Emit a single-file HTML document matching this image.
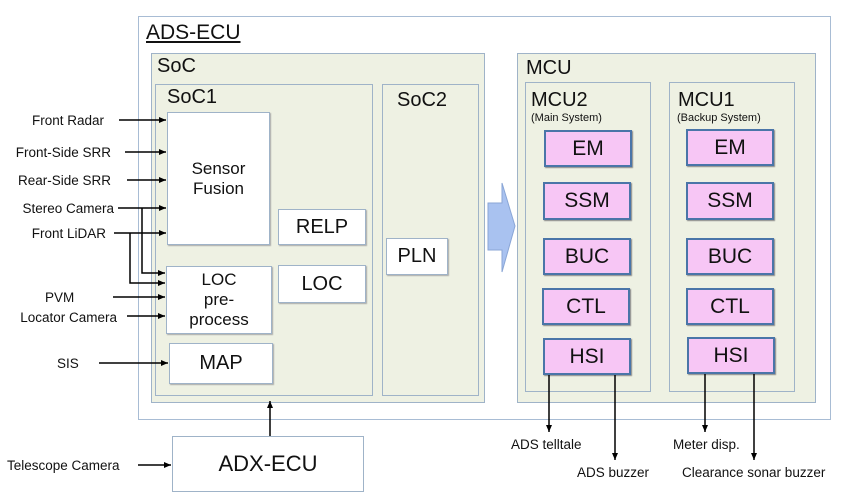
<!DOCTYPE html>
<html><head><style>
body{margin:0;width:850px;height:504px;background:#fff;position:relative;overflow:hidden;font-family:"Liberation Sans","DejaVu Sans",sans-serif;color:#111}
.b{position:absolute;box-sizing:border-box}
.g{background:#eef1e3;border:1.5px solid #9fb3c8}
.w{background:#fff;border:1.5px solid #9fb3c8;box-shadow:1px 1px 1px #aaa;display:flex;align-items:center;justify-content:center;text-align:center}
.p{background:#f7c6f5;border:2px solid #4a75a8;box-shadow:1px 1px 1px #888;display:flex;align-items:center;justify-content:center;font-size:21px}
.t{position:absolute;font-size:20px;line-height:20px}
.l{position:absolute;font-size:13.5px;line-height:13px;white-space:nowrap}
</style></head><body>
<div class="b" style="left:138px;top:16px;width:693px;height:404px;border:1.5px solid #a8bcd4;background:#fff"></div>
<div class="t" style="left:146px;top:23px;font-size:21px;text-decoration:underline">ADS-ECU</div>
<div class="b g" style="left:151px;top:53px;width:334px;height:350px"></div>
<div class="t" style="left:157px;top:56px;font-size:20px">SoC</div>
<div class="b g" style="left:155px;top:84px;width:218px;height:312px"></div>
<div class="t" style="left:167px;top:87px">SoC1</div>
<div class="b g" style="left:382px;top:84px;width:97px;height:312px"></div>
<div class="t" style="left:397px;top:90px">SoC2</div>
<div class="b w" style="left:167px;top:112px;width:103px;height:133px;font-size:17px">Sensor<br>Fusion</div>
<div class="b w" style="left:278px;top:209px;width:88px;height:36px;font-size:20px">RELP</div>
<div class="b w" style="left:166px;top:266px;width:106px;height:68px;font-size:17px;line-height:20px">LOC<br>pre-<br>process</div>
<div class="b w" style="left:278px;top:265px;width:88px;height:38px;font-size:20px">LOC</div>
<div class="b w" style="left:169px;top:343px;width:104px;height:41px;font-size:20px">MAP</div>
<div class="b w" style="left:386px;top:238px;width:62px;height:37px;font-size:20px">PLN</div>
<div class="b g" style="left:517px;top:53px;width:299px;height:350px"></div>
<div class="t" style="left:526px;top:58px">MCU</div>
<div class="b g" style="left:525px;top:82px;width:126px;height:310px"></div>
<div class="t" style="left:531px;top:90px">MCU2</div>
<div class="l" style="left:531px;top:112px;font-size:11px">(Main System)</div>
<div class="b g" style="left:669px;top:82px;width:126px;height:310px"></div>
<div class="t" style="left:678px;top:90px">MCU1</div>
<div class="l" style="left:677px;top:112px;font-size:11px">(Backup System)</div>
<div class="b p" style="left:544px;top:130px;width:88px;height:37px">EM</div>
<div class="b p" style="left:543px;top:182px;width:88px;height:38px">SSM</div>
<div class="b p" style="left:543px;top:238px;width:88px;height:37px">BUC</div>
<div class="b p" style="left:542px;top:288px;width:88px;height:37px">CTL</div>
<div class="b p" style="left:543px;top:338px;width:88px;height:37px">HSI</div>
<div class="b p" style="left:686px;top:129px;width:88px;height:37px">EM</div>
<div class="b p" style="left:686px;top:182px;width:88px;height:38px">SSM</div>
<div class="b p" style="left:686px;top:238px;width:88px;height:37px">BUC</div>
<div class="b p" style="left:686px;top:288px;width:88px;height:37px">CTL</div>
<div class="b p" style="left:687px;top:337px;width:88px;height:37px">HSI</div>
<div class="b w" style="left:172px;top:436px;width:192px;height:56px;font-size:22px;box-shadow:none">ADX-ECU</div>
<div class="l" style="right:746px;top:114px">Front Radar</div>
<div class="l" style="right:739px;top:146px">Front-Side SRR</div>
<div class="l" style="right:739px;top:174px">Rear-Side SRR</div>
<div class="l" style="right:736px;top:202px">Stereo Camera</div>
<div class="l" style="right:744px;top:227px">Front LiDAR</div>
<div class="l" style="left:45px;top:291px">PVM</div>
<div class="l" style="right:733px;top:311px">Locator Camera</div>
<div class="l" style="left:57px;top:357px">SIS</div>
<div class="l" style="left:7px;top:459px">Telescope Camera</div>
<div class="l" style="left:511px;top:438px">ADS telltale</div>
<div class="l" style="left:577px;top:466px">ADS buzzer</div>
<div class="l" style="left:673px;top:438px">Meter disp.</div>
<div class="l" style="left:682px;top:466px">Clearance sonar buzzer</div>
<svg width="850" height="504" style="position:absolute;left:0;top:0">
<defs><marker id="a" markerWidth="8" markerHeight="8" refX="7" refY="4" orient="auto" markerUnits="userSpaceOnUse"><path d="M0,1 L7,4 L0,7z" fill="#000"/></marker></defs>
<g stroke="#000" stroke-width="1.5" fill="none" marker-end="url(#a)">
<line x1="119" y1="120" x2="166" y2="120"/>
<line x1="125" y1="152" x2="166" y2="152"/>
<line x1="127" y1="180" x2="166" y2="180"/>
<line x1="118" y1="208" x2="166" y2="208"/>
<line x1="114" y1="233" x2="166" y2="233"/>
<polyline points="142,208 142,273 165,273"/>
<polyline points="130,233 130,283 165,283"/>
<line x1="113" y1="297" x2="165" y2="297"/>
<line x1="127" y1="316" x2="165" y2="316"/>
<line x1="99" y1="363" x2="168" y2="363"/>
<line x1="138" y1="465" x2="171" y2="465"/>
<line x1="270" y1="436" x2="270" y2="401"/>
<line x1="549" y1="375" x2="549" y2="432"/>
<line x1="615" y1="375" x2="615" y2="460"/>
<line x1="705" y1="374" x2="705" y2="432"/>
<line x1="754" y1="374" x2="754" y2="460"/>
</g>
<path d="M488,203 L502,203 L502,183 L515,226 L502,272 L502,250 L488,250z" fill="#a9c2f0" stroke="#8aa6d6"/>
</svg>
</body></html>
